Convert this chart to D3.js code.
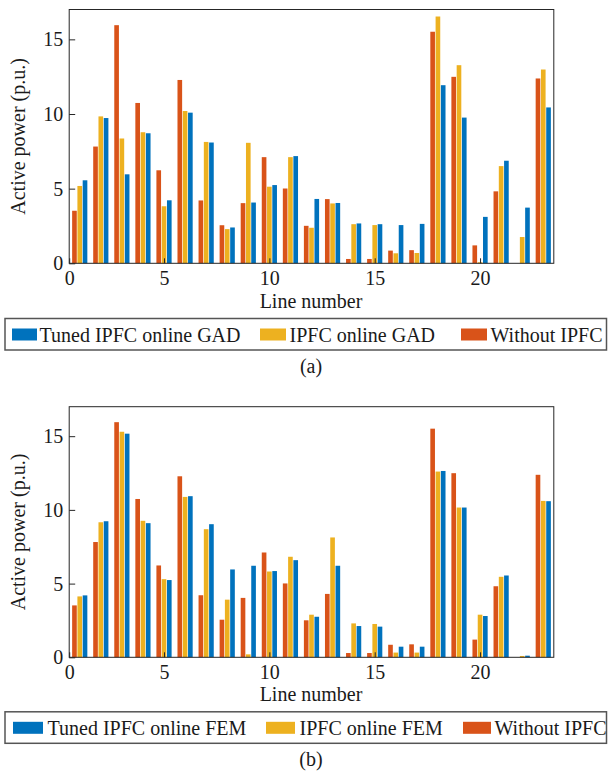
<!DOCTYPE html>
<html>
<head>
<meta charset="utf-8">
<script src="https://cdn.jsdelivr.net/npm/d3@7"></script>
<style>
  body { margin: 0; background: #fff; }
  text { font-family: "Liberation Serif", "Times New Roman", serif; fill: #1a1a1a; }
</style>
</head>
<body>
<div id="chart"></div>
<script>
// line numbers on the x axis
const lineNumbers = [1, 2, 3, 4, 5, 6, 7, 8, 9, 10, 11, 12, 13, 14, 15, 16, 17, 18, 19, 20, 21, 22, 23];

// active power (p.u.), same base case in both panels
const withoutIpfc = [3.52, 7.82, 15.95, 10.74, 6.23, 12.28, 4.21, 2.55, 4.03, 7.11, 5.01, 2.51, 4.3, 0.29, 0.29, 0.85, 0.88, 15.51, 12.49, 1.2, 4.82, 0, 12.38];
// panel (a)
const ipfcGad = [5.18, 9.84, 8.36, 8.78, 3.82, 10.2, 8.13, 2.29, 8.07, 5.13, 7.11, 2.38, 4.01, 2.62, 2.56, 0.67, 0.69, 16.53, 13.27, 0.07, 6.51, 1.76, 12.98];
const tunedGad = [5.56, 9.73, 5.96, 8.71, 4.22, 10.09, 8.09, 2.4, 4.07, 5.24, 7.18, 4.31, 4.04, 2.67, 2.62, 2.56, 2.64, 11.93, 9.76, 3.11, 6.87, 3.73, 10.44];
// panel (b)
const ipfcFem = [4.13, 9.16, 15.3, 9.26, 5.3, 10.88, 8.69, 3.91, 0.2, 5.82, 6.82, 2.89, 8.13, 2.3, 2.26, 0.32, 0.32, 12.6, 10.16, 2.89, 5.46, 0.09, 10.61];
const tunedFem = [4.2, 9.23, 15.17, 9.1, 5.24, 10.93, 9.03, 5.96, 6.21, 5.85, 6.59, 2.75, 6.21, 2.12, 2.08, 0.72, 0.72, 12.64, 10.16, 2.8, 5.55, 0.11, 10.59];

// ticks
const yTicks = [0, 5, 10, 15];
const xTickPositions = [0.5, 5, 10, 15, 20];
const xTickLabels = ["0", "5", "10", "15", "20"];

const colors = { red: "#D95319", yellow: "#EDB120", blue: "#0072BD" };

const width = 608, height = 773;
const svg = d3.select("#chart").append("svg")
  .attr("width", width)
  .attr("height", height);

svg.append("rect").attr("width", width).attr("height", height).attr("fill", "#fff");

const panels = [
  {
    top: 9.5, bottom: 263.3, dy: 0,
    series: [
      { key: "red", values: withoutIpfc },
      { key: "yellow", values: ipfcGad },
      { key: "blue", values: tunedGad }
    ],
    legend: [
      { key: "blue", label: "Tuned IPFC online GAD", x0: 12, x1: 37, tx: 39.5 },
      { key: "yellow", label: "IPFC online GAD", x0: 260, x1: 286, tx: 289.5 },
      { key: "red", label: "Without IPFC", x0: 461, x1: 487, tx: 490.5 }
    ],
    caption: "(a)"
  },
  {
    top: 406.7, bottom: 657.3, dy: 393.3,
    series: [
      { key: "red", values: withoutIpfc },
      { key: "yellow", values: ipfcFem },
      { key: "blue", values: tunedFem }
    ],
    legend: [
      { key: "blue", label: "Tuned IPFC online FEM", x0: 13, x1: 43, tx: 47.5 },
      { key: "yellow", label: "IPFC online FEM", x0: 266, x1: 295, tx: 299.5 },
      { key: "red", label: "Without IPFC", x0: 463, x1: 491, tx: 494.5 }
    ],
    caption: "(b)"
  }
];

const xScale = d3.scaleLinear().domain([0.5, 23.5]).range([69.2, 553.8]);
const sub = d3.scaleBand().domain(["red", "yellow", "blue"])
  .range([-7.6, 7.6]).paddingInner(0.12);

panels.forEach(p => {
  const yScale = d3.scaleLinear().domain([0, 17]).range([p.bottom, p.top]);
  const g = svg.append("g");

  // bars
  p.series.forEach(s => {
    g.append("g").selectAll("rect")
      .data(s.values)
      .join("rect")
      .attr("x", (d, i) => xScale(lineNumbers[i]) + sub(s.key))
      .attr("width", sub.bandwidth())
      .attr("y", d => yScale(d))
      .attr("height", d => yScale(0) - yScale(d))
      .attr("fill", colors[s.key]);
  });

  // box
  g.append("rect")
    .attr("x", xScale(0.5)).attr("y", p.top)
    .attr("width", xScale(23.5) - xScale(0.5))
    .attr("height", p.bottom - p.top)
    .attr("fill", "none").attr("stroke", "#262626").attr("stroke-width", 1);

  // y axis (ticks inside)
  const yAxis = d3.axisLeft(yScale).tickValues(yTicks).tickSize(-6).tickPadding(6).tickFormat(d3.format("d"));
  const ya = g.append("g").attr("transform", `translate(${xScale(0.5)},0)`).call(yAxis);
  ya.select(".domain").remove();
  ya.selectAll("line").attr("stroke", "#262626");
  ya.selectAll("text").attr("font-size", 20).attr("fill", "#1a1a1a")
    .style("font-family", "Liberation Serif, Times New Roman, serif");

  // x axis
  const xAxis = d3.axisBottom(xScale).tickValues(xTickPositions)
    .tickFormat((d, i) => xTickLabels[i]).tickSize(-5).tickPadding(8);
  const xa = g.append("g").attr("transform", `translate(0,${p.bottom})`).call(xAxis);
  xa.select(".domain").remove();
  xa.selectAll("line").attr("stroke", "#262626");
  xa.selectAll("text").attr("font-size", 20).attr("fill", "#1a1a1a")
    .style("font-family", "Liberation Serif, Times New Roman, serif");

  // axis labels
  g.append("text")
    .attr("x", 311).attr("y", 308 + p.dy)
    .attr("text-anchor", "middle").attr("font-size", 20)
    .text("Line number");

  g.append("text")
    .attr("transform", `translate(25,${(p.top + p.bottom) / 2}) rotate(-90)`)
    .attr("text-anchor", "middle").attr("font-size", 20)
    .text("Active power (p.u.)");

  // legend
  const ly = 318.5 + p.dy;
  g.append("rect")
    .attr("x", 5).attr("y", ly).attr("width", 601.5).attr("height", 31.5)
    .attr("fill", "#fff").attr("stroke", "#555").attr("stroke-width", 1.5);
  p.legend.forEach(l => {
    g.append("rect")
      .attr("x", l.x0).attr("y", ly + 10).attr("width", l.x1 - l.x0).attr("height", 12)
      .attr("fill", colors[l.key]);
    g.append("text")
      .attr("x", l.tx).attr("y", ly + 23)
      .attr("font-size", 20)
      .text(l.label);
  });

  // caption
  g.append("text")
    .attr("x", 311).attr("y", 373 + p.dy)
    .attr("text-anchor", "middle").attr("font-size", 20)
    .text(p.caption);
});
</script>
</body>
</html>
